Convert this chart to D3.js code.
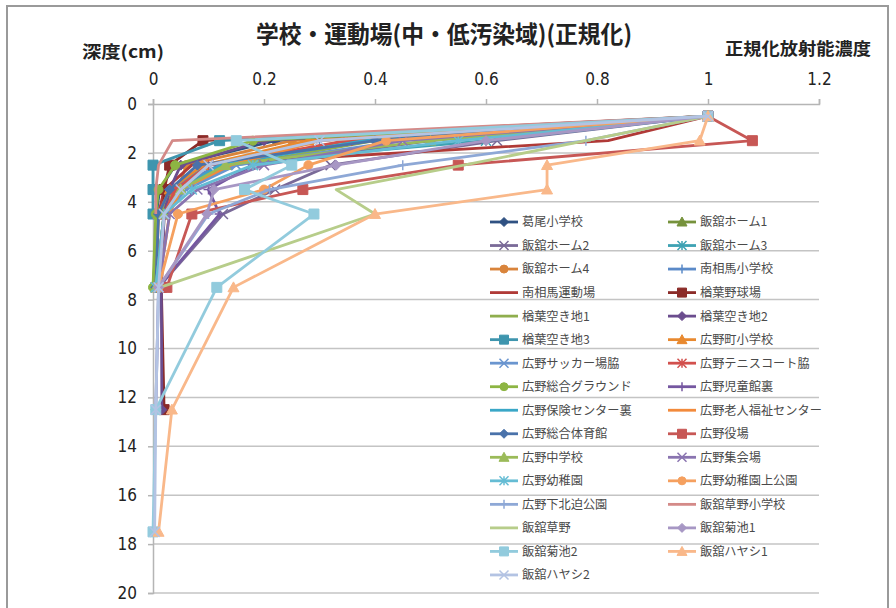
<!DOCTYPE html>
<html>
<head>
<meta charset="utf-8">
<script src="https://cdn.jsdelivr.net/npm/d3@7"></script>
<style>
  html, body { margin: 0; padding: 0; background: #fff; }
  svg { display: block; }
  .jp { font-family: "Noto Sans CJK JP", "Noto Sans CJK SC", sans-serif; }
  .num { font-family: "Liberation Sans Narrow", "DejaVu Sans Condensed", "Liberation Sans", sans-serif; }
</style>
</head>
<body>
<svg id="chart" width="896" height="608"></svg>
<script>
// Sampling depths (cm) shared by every profile
const depths = [0.5, 1.5, 2.5, 3.5, 4.5, 7.5, 12.5, 17.5];

// Site names, in legend order
const siteNames = [
  "葛尾小学校", "飯舘ホーム1", "飯舘ホーム2", "飯舘ホーム3", "飯舘ホーム4", "南相馬小学校",
  "南相馬運動場", "楢葉野球場", "楢葉空き地1", "楢葉空き地2", "楢葉空き地3", "広野町小学校",
  "広野サッカー場脇", "広野テニスコート脇", "広野総合グラウンド", "広野児童館裏", "広野保険センター裏", "広野老人福祉センター",
  "広野総合体育館", "広野役場", "広野中学校", "広野集会場", "広野幼稚園", "広野幼稚園上公園",
  "広野下北迫公園", "飯舘草野小学校", "飯舘草野", "飯舘菊池1", "飯舘菊池2", "飯舘ハヤシ1",
  "飯舘ハヤシ2"
];

// Normalised activity per depth, one array per site (same order as siteNames)
const katsuraoSchool    = [1, 0.22, 0.04, 0.012, 0.006];
const iitateHome1       = [1, 0.35, 0.13, 0.03, 0.01];
const iitateHome2       = [1, 0.62, 0.32, 0.22, 0.126, 0.01];
const iitateHome3       = [1, 0.60, 0.10, 0.03, 0.01];
const iitateHome4       = [1, 0.25, 0.06, 0.045, 0.02];
const minamisomaSchool  = [1, 0.30, 0.12, 0.03, 0.01];
const minamisomaField   = [1, 0.82, 0.07, 0.02, 0.01];
const narahaBallpark    = [1, 0.09, 0.03, 0.02, 0.02, 0.015, 0.02];
const narahaLot1        = [1, 0.40, 0.15, 0.04, 0.01, 0.0];
const narahaLot2        = [1, 0.20, 0.05, 0.03, 0.02, 0.015, 0.016];
const narahaLot3        = [1, 0.12, 0.0, 0.0, 0.0];
const hironoSchool      = [1, 0.28, 0.09, 0.03, 0.01, 0.005];
const hironoSoccer      = [1, 0.45, 0.15, 0.06, 0.02, 0.005];
const hironoTennis      = [1, 0.35, 0.10, 0.04, 0.02, 0.005];
const hironoGround      = [1, 0.18, 0.04, 0.01, 0.005, 0.0];
const hironoChildHall   = [1, 0.50, 0.18, 0.10, 0.12, 0.01];
const hironoHealthCtr   = [1, 0.38, 0.12, 0.05, 0.02, 0.005];
const hironoElderCtr    = [1, 0.30, 0.14, 0.05, 0.03, 0.01];
const hironoGym         = [1, 0.40, 0.08, 0.03, 0.01, 0.005];
const hironoTownHall    = [1, 1.08, 0.55, 0.27, 0.07, 0.025];
const hironoJuniorHigh  = [1, 0.50, 0.13, 0.05, 0.02, 0.005];
const hironoMeetingHall = [1, 0.45, 0.20, 0.08, 0.03, 0.01];
const hironoKinder      = [1, 0.55, 0.18, 0.07, 0.02, 0.005];
const hironoKinderPark  = [1, 0.42, 0.28, 0.20, 0.045, 0.01];
const hironoShimokita   = [1, 0.78, 0.45, 0.21, 0.10, 0.01, 0.005];
const iitateKusanoSch   = [1, 0.035, 0.01, 0.005, 0.005];
const iitateKusano      = [1, 0.78, 0.56, 0.33, 0.40, 0.013];
const iitateKikuchi1    = [1, 0.60, 0.33, 0.11, 0.097, 0.01, 0.005];
const iitateKikuchi2    = [1, 0.15, 0.25, 0.165, 0.29, 0.115, 0.005, 0.0];
const iitateHayashi1    = [1, 0.985, 0.71, 0.71, 0.40, 0.145, 0.034, 0.01];
const iitateHayashi2    = [1, 0.30, 0.10, 0.05, 0.02, 0.01, 0.005, 0.003];

const seriesValues = [
  katsuraoSchool, iitateHome1, iitateHome2, iitateHome3, iitateHome4, minamisomaSchool,
  minamisomaField, narahaBallpark, narahaLot1, narahaLot2, narahaLot3, hironoSchool,
  hironoSoccer, hironoTennis, hironoGround, hironoChildHall, hironoHealthCtr, hironoElderCtr,
  hironoGym, hironoTownHall, hironoJuniorHigh, hironoMeetingHall, hironoKinder, hironoKinderPark,
  hironoShimokita, iitateKusanoSch, iitateKusano, iitateKikuchi1, iitateKikuchi2, iitateHayashi1,
  iitateHayashi2
];

// Axis tick values
const xTicks = [0, 0.2, 0.4, 0.6, 0.8, 1, 1.2];
const yTicks = [0, 2, 4, 6, 8, 10, 12, 14, 16, 18, 20];

// Line colours and marker shapes per series
const seriesColors = [
  "#2f5182", "#76923c", "#7a6a98", "#3ea2b3", "#d9843b", "#5b8ac8",
  "#b03a37", "#8b2b28", "#8fae4e", "#6b4d8e", "#3e95ae", "#e8892f",
  "#6a95cf", "#d2504d", "#8db543", "#7557a0", "#3aa7c7", "#f28a3c",
  "#4a72aa", "#c75755", "#9bbb59", "#8a74b0", "#65bcd4", "#f5a05f",
  "#8ea8d6", "#d48a88", "#b7cd8a", "#a797c4", "#92cbdd", "#f9b88a",
  "#b3c3e3"
];
const seriesMarkers = [
  "diamond", "triangle", "x", "star", "circle", "plus",
  "none", "square", "none", "diamond", "square", "triangle",
  "x", "star", "circle", "plus", "none", "none",
  "diamond", "square", "triangle", "x", "star", "circle",
  "plus", "none", "none", "diamond", "square", "triangle",
  "x"
];

const svg = d3.select("#chart");

// Outer chart frame
svg.append("rect")
  .attr("x", 7).attr("y", 6).attr("width", 881).attr("height", 620)
  .attr("fill", "#fff").attr("stroke", "#9a9a9a").attr("stroke-width", 2);

const x = d3.scaleLinear().domain([0, 1.2]).range([153, 819]);
const y = d3.scaleLinear().domain([0, 20]).range([104, 593]);

// Horizontal gridlines
svg.append("g")
  .selectAll("line")
  .data(yTicks.filter(d => d > 0))
  .join("line")
  .attr("x1", x(0)).attr("x2", x(1.2))
  .attr("y1", d => y(d)).attr("y2", d => y(d))
  .attr("stroke", "#c4c4c4").attr("stroke-width", 1.5);

// Top value axis
const xAxis = svg.append("g")
  .attr("transform", `translate(0,${y(0)})`)
  .call(d3.axisTop(x).tickValues(xTicks).tickSize(5).tickPadding(14)
    .tickFormat(d => d3.format("~g")(d)));
xAxis.select(".domain").attr("stroke", "#b5b5b5").attr("stroke-width", 1.5);
xAxis.selectAll(".tick line").attr("stroke", "#b5b5b5").attr("stroke-width", 1.5);
xAxis.selectAll(".tick text")
  .attr("class", "num").attr("font-size", 17).attr("fill", "#222");

// Left depth axis
const yAxis = svg.append("g")
  .attr("transform", `translate(${x(0)},0)`)
  .call(d3.axisLeft(y).tickValues(yTicks).tickSize(5).tickPadding(11));
yAxis.select(".domain").attr("stroke", "#b5b5b5").attr("stroke-width", 1.5);
yAxis.selectAll(".tick line").attr("stroke", "#b5b5b5").attr("stroke-width", 1.5);
yAxis.selectAll(".tick text")
  .attr("class", "num").attr("font-size", 17).attr("fill", "#222");

// Titles
svg.append("text").attr("class", "jp")
  .attr("x", 256).attr("y", 43)
  .attr("font-size", 24).attr("font-weight", 700).attr("fill", "#222")
  .attr("textLength", 376).attr("lengthAdjust", "spacingAndGlyphs")
  .text("学校・運動場(中・低汚染域)(正規化)");
svg.append("text").attr("class", "jp")
  .attr("x", 82).attr("y", 58)
  .attr("font-size", 17).attr("font-weight", 700).attr("fill", "#222")
  .attr("textLength", 82).attr("lengthAdjust", "spacingAndGlyphs")
  .text("深度(cm)");
svg.append("text").attr("class", "jp")
  .attr("x", 725).attr("y", 55)
  .attr("font-size", 17).attr("font-weight", 700).attr("fill", "#222")
  .attr("textLength", 146).attr("lengthAdjust", "spacingAndGlyphs")
  .text("正規化放射能濃度");

// Marker path generator, centred on 0,0
function markerPath(type, r) {
  switch (type) {
    case "diamond":  return `M0,${-r}L${r},0L0,${r}L${-r},0Z`;
    case "square":   return `M${-r},${-r}H${r}V${r}H${-r}Z`;
    case "triangle": return `M0,${-r}L${r},${r * 0.8}L${-r},${r * 0.8}Z`;
    case "circle":   return d3.symbol(d3.symbolCircle, Math.PI * r * r)();
    case "x":        return `M${-r},${-r}L${r},${r}M${-r},${r}L${r},${-r}`;
    case "star":     return `M${-r},${-r}L${r},${r}M${-r},${r}L${r},${-r}M0,${-r}L0,${r}`;
    case "plus":     return `M${-r},0H${r}M0,${-r}V${r}`;
    default:         return "";
  }
}
const filled = t => ["diamond", "square", "triangle", "circle"].includes(t);
const markerR = t => t === "square" ? 5 : (t === "triangle" ? 5.5 : (t === "circle" ? 4.5 : 5));

const line = d3.line()
  .x(d => x(d.v))
  .y(d => y(d.depth));

const plot = svg.append("g");
seriesValues.forEach((vals, i) => {
  const pts = vals.map((v, k) => ({ v, depth: depths[k] }));
  const g = plot.append("g");
  g.append("path")
    .datum(pts)
    .attr("d", line)
    .attr("fill", "none")
    .attr("stroke", seriesColors[i])
    .attr("stroke-width", 2.8)
    .attr("stroke-linejoin", "round");
  const m = seriesMarkers[i];
  if (m !== "none") {
    g.selectAll("path.mk")
      .data(pts)
      .join("path")
      .attr("class", "mk")
      .attr("transform", d => `translate(${x(d.v)},${y(d.depth)})`)
      .attr("d", markerPath(m, markerR(m)))
      .attr("fill", filled(m) ? seriesColors[i] : "none")
      .attr("stroke", seriesColors[i])
      .attr("stroke-width", filled(m) ? 1 : 1.5);
  }
});

// Legend: two columns, filled row by row
const legend = svg.append("g");
const legX = [490, 668], legY0 = 222, legDy = 23.53;
siteNames.forEach((name, i) => {
  const col = i % 2, row = Math.floor(i / 2);
  const lx = legX[col], ly = legY0 + row * legDy;
  const g = legend.append("g").attr("transform", `translate(${lx},${ly})`);
  g.append("line")
    .attr("x1", 0).attr("x2", 28).attr("y1", 0).attr("y2", 0)
    .attr("stroke", seriesColors[i]).attr("stroke-width", 2.8);
  const m = seriesMarkers[i];
  if (m !== "none") {
    g.append("path")
      .attr("transform", "translate(14,0)")
      .attr("d", markerPath(m, markerR(m) - 0.5))
      .attr("fill", filled(m) ? seriesColors[i] : "none")
      .attr("stroke", seriesColors[i])
      .attr("stroke-width", filled(m) ? 1 : 1.5);
  }
  g.append("text").attr("class", "jp")
    .attr("x", 32).attr("y", 0).attr("dy", "0.36em")
    .attr("font-size", 12.2).attr("fill", "#4a4a4a")
    .text(name);
});
</script>
</body>
</html>
